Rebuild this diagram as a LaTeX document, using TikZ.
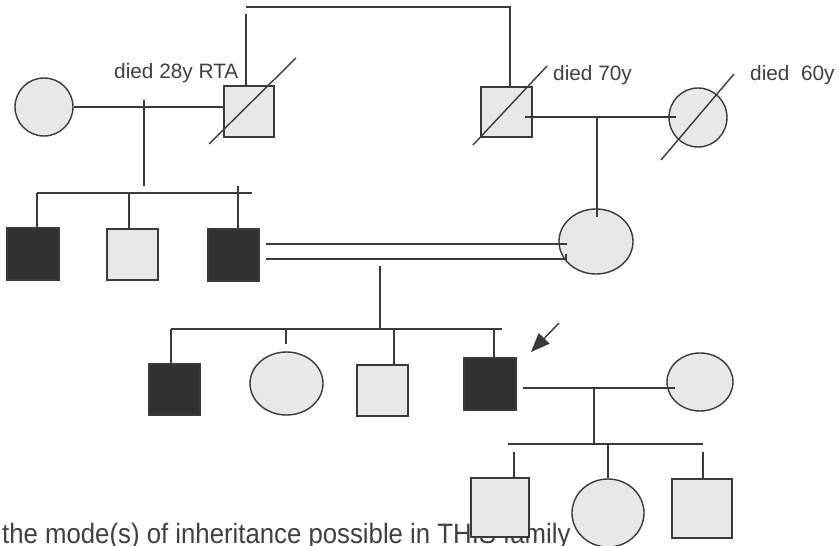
\documentclass[tikz,border=0pt]{standalone}
\usepackage{fontspec}
\setmainfont{Liberation Sans}
\newfontfamily\qfont[FakeStretch=0.92]{Liberation Sans}
\usetikzlibrary{shapes.geometric,arrows.meta}
\definecolor{ink}{HTML}{3A3A3A}
\definecolor{light}{HTML}{E8E8E8}
\definecolor{dark}{HTML}{303030}
\definecolor{txt}{HTML}{404040}
\begin{document}
\begin{tikzpicture}[x=1pt,y=-1pt,
  line/.style={draw=ink,line width=1.4pt},
  male/.style={rectangle,draw=ink,line width=1.4pt,fill=light,inner sep=0pt},
  affm/.style={male,fill=dark},
  fem/.style={ellipse,draw=ink,line width=1.4pt,fill=light,inner sep=0pt},
  lbl/.style={text=txt,font=\fontsize{20.8}{24}\selectfont,inner sep=0pt,anchor=base west},
  qtext/.style={text=txt,font=\qfont\fontsize{28}{32}\selectfont,inner sep=0pt,anchor=base west}]
\fill[white] (0,0) rectangle (839,546);
\useasboundingbox (0,0) rectangle (839,546);

% question text (partly covered by the child's square)
\node[qtext] (q) at (2,543) {the mode(s) of inheritance possible in THIS family};

% generation I
\node[fem,minimum width=58pt,minimum height=58pt] (g1a) at (44,107) {};
\node[male,minimum width=50pt,minimum height=51pt] (g1b) at (249,111.5) {};
\node[male,minimum width=51pt,minimum height=50pt] (g1c) at (506.5,112) {};
\node[fem,minimum width=58pt,minimum height=59pt] (g1d) at (698,117.5) {};
\node[lbl] (l1) at (114,78) {died 28y RTA};
\node[lbl] (l2) at (553,80) {died 70y};
\node[lbl] (l3) at (750,80) {died~~60y};

% generation II
\node[affm,minimum width=52pt,minimum height=52pt] (g21) at (33,254) {};
\node[male,minimum width=51pt,minimum height=51pt] (g22) at (132.5,254.5) {};
\node[affm,minimum width=51pt,minimum height=52pt] (g23) at (233.5,255) {};
\node[fem,minimum width=74pt,minimum height=65pt] (g24) at (596,241.5) {};

% generation III
\node[affm,minimum width=51pt,minimum height=51pt] (g31) at (174.5,389.5) {};
\node[fem,minimum width=73pt,minimum height=63pt] (g32) at (286.5,383.5) {};
\node[male,minimum width=51pt,minimum height=51pt] (g33) at (382.5,390.5) {};
\node[affm,minimum width=52pt,minimum height=52pt] (g34) at (490,384) {};
\node[fem,minimum width=66pt,minimum height=58pt] (g35) at (700,382) {};

% generation IV
\node[male,minimum width=58pt,minimum height=59pt] (g41) at (500,507.5) {};
\node[fem,minimum width=72pt,minimum height=68pt] (g42) at (608,513) {};
\node[male,minimum width=60pt,minimum height=59pt] (g43) at (702,508.5) {};

% top link between the two men of generation I
\coordinate (tl) at (246,7);
\coordinate (tr) at (510,7);
\coordinate (tlv) at (246,14);
\draw[line] (tl) -- (tr) -- (tr |- g1c.north);
\draw[line] (tlv) -- (tlv |- g1b.north);

% marriage I left and its children
\draw[line] (g1a.east) -- (g1a.east -| g1b.west);
\coordinate (m1) at (144,100);
\coordinate (m1b) at (144,186);
\draw[line] (m1) -- (m1b);
\coordinate (k1) at (37,193);
\coordinate (k2) at (129,193);
\coordinate (k3) at (238,186);
\coordinate (k4) at (252,193);
\draw[line] (k1) -- (k4);
\draw[line] (k1) -- (k1 |- g21.north);
\draw[line] (k2) -- (k2 |- g22.north);
\draw[line] (k3) -- (k3 |- g23.north);

% marriage I right and its daughter
\coordinate (n1) at (525,117);
\coordinate (n2) at (676,117);
\draw[line] (n1) -- (n2);
\coordinate (n3) at (597,117);
\coordinate (n4) at (597,217);
\draw[line] (n3) -- (n4);

% consanguineous marriage (double line)
\coordinate (d1) at (266,244);
\coordinate (d3) at (567,244);
\coordinate (d2) at (266,259);
\coordinate (d4) at (566,259);
\coordinate (d5) at (566,254);
\draw[line] (d1) -- (d3);
\draw[line] (d2) -- (d4) -- (d5);

% children of generation III
\coordinate (e1) at (380,266);
\coordinate (e2) at (380,329);
\draw[line] (e1) -- (e2);
\coordinate (f1) at (171,329);
\coordinate (f2) at (502,329);
\draw[line] (f1) -- (f2);
\draw[line] (f1) -- (f1 |- g31.north);
\coordinate (f3) at (286,329);
\coordinate (f3b) at (286,344);
\draw[line] (f3) -- (f3b);
\coordinate (f4) at (394,329);
\draw[line] (f4) -- (f4 |- g33.north);
\coordinate (f5) at (494,329);
\draw[line] (f5) -- (f5 |- g34.north);

% proband arrow
\coordinate (ar) at (559,323);
\coordinate (at) at (531,352);
\draw[line,-{Triangle[length=19pt,width=15pt]}] (ar) -- (at);

% marriage III and children
\coordinate (h1) at (523,388);
\coordinate (h2) at (675,388);
\draw[line] (h1) -- (h2);
\coordinate (h3) at (594,388);
\coordinate (h4) at (594,444);
\draw[line] (h3) -- (h4);
\coordinate (p1) at (508,444);
\coordinate (p2) at (703,444);
\draw[line] (p1) -- (p2);
\coordinate (p3) at (514,452);
\draw[line] (p3) -- (p3 |- g41.north);
\coordinate (p4) at (608,444);
\draw[line] (p4) -- (g42.north);
\coordinate (p5) at (703,452);
\draw[line] (p5) -- (p5 |- g43.north);

% deceased slashes
\coordinate (sa1) at (209,144); \coordinate (sa2) at (296,58);
\coordinate (sb1) at (473,145); \coordinate (sb2) at (547,66);
\coordinate (sc1) at (661,160); \coordinate (sc2) at (734,74);
\draw[line] (sa1) -- (sa2);
\draw[line] (sb1) -- (sb2);
\draw[line] (sc1) -- (sc2);
\end{tikzpicture}
\end{document}
